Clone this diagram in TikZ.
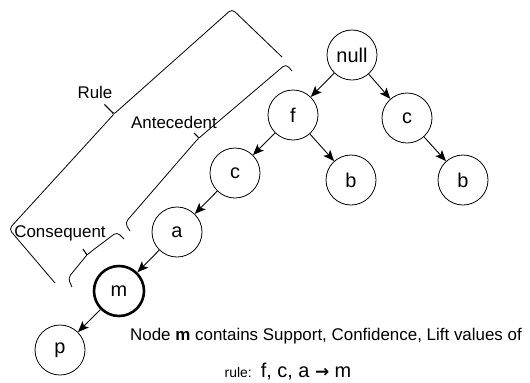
\documentclass[tikz,border=0pt]{standalone}
\usepackage{fontspec}
\setmainfont{Liberation Sans}
\newfontfamily\arrowfont{DejaVu Sans}
\usetikzlibrary{arrows.meta}
\tikzset{>={Stealth[length=11pt,width=9pt,inset=2.5pt]}}
\tikzset{
	item/.style={circle, draw, line width=0.8pt, minimum size=50bp, inner sep=0pt,
			font=\fontsize{20}{22}\selectfont},
	lastitem/.style={item, line width=2.6pt},
	link/.style={->, line width=0.9pt},
	bracket/.style={line width=0.8pt, rounded corners=4pt},
	bracetext/.style={font=\fontsize{17}{19}\selectfont}
}

\begin{document}
\begin{tikzpicture}[x=1bp, y=1bp]
	\useasboundingbox (0,0) rectangle (530,-382);

	% the tree
	\node[item] (null) at (352,-55) {null};
	\node[item] (f) at (293,-115) {f};
	\node[item] (cright) at (407,-118) {c};
	\node[item] (bleft) at (351,-180) {b};
	\node[item] (bright) at (463,-180) {b};
	\node[item] (cleft) at (235,-173) {c};
	\node[item] (a) at (177,-232) {a};
	\node[lastitem] (m) at (119,-291) {m};
	\node[item] (p) at (60,-350) {p};

	\draw[link] (null) -- (f);
	\draw[link] (null) -- (cright);
	\draw[link] (f) -- (cleft);
	\draw[link] (f) -- (bleft);
	\draw[link] (cright) -- (bright);
	\draw[link] (cleft) -- (a);
	\draw[link] (a) -- (m);
	\draw[link] (m) -- (p);

	% braces
	\draw[bracket] (55,-283) -- (9,-229) -- (110,-118.4) .. controls (114,-114) .. (104.5,-104.5);
	\draw[bracket] (282,-57) -- (232,-9) -- (118.5,-110) .. controls (114,-114) .. (104.5,-104.5);
	\draw[bracket] (130,-231) -- (125,-223) -- (195.5,-141.5) .. controls (199,-138) .. (194,-133);
	\draw[bracket] (292,-71) -- (286,-64) -- (202.5,-135) .. controls (199,-138) .. (194,-133);
	\draw[bracket] (72,-287) -- (68,-278) -- (84,-258.5) .. controls (87,-255) .. (83,-249);
	\draw[bracket] (124,-239) -- (117,-232) -- (90.5,-252) .. controls (87,-255) .. (83,-249);

	\node[bracetext] (rule) at (95,-92) {Rule};
	\node[bracetext] (antecedent) at (174,-122) {Antecedent};
	\node[bracetext] (consequent) at (60,-233) {Consequent};

	% note under the tree
	\node[font=\fontsize{17}{19}\selectfont] (note) at (326,-336)
		{Node \textbf{m} contains Support, Confidence, Lift values of};
	\node[anchor=base, inner sep=0pt] (rulenote) at (288,-377)
		{{\fontsize{14}{16}\selectfont rule:}\hspace{9pt}{\fontsize{20}{22}\selectfont f, c, a {\arrowfont\fontsize{17}{18}\selectfont\textbf{→}} m}};
\end{tikzpicture}
\end{document}
